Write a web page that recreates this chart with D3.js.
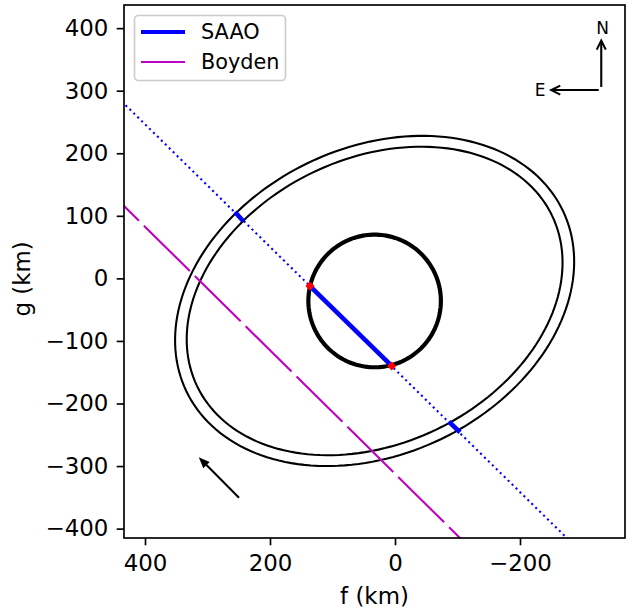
<!DOCTYPE html>
<html><head><meta charset="utf-8">
<script src="https://cdn.jsdelivr.net/npm/d3@7"></script>
<style>body{margin:0;background:#fff} text{font-family:"DejaVu Sans",sans-serif;fill:#000}</style>
</head><body><svg id="c" width="636" height="613"></svg>
<script>
// ---- data (km) ----
const xTicks = [400, 200, 0, -200];
const yTicks = [400, 300, 200, 100, 0, -100, -200, -300, -400];
const xDomain = [433.6, -368];
const yDomain = [-415, 437];
const bodyCenter = [32.6, -36.1];
const circleRadius = 106;
const ellipseAngleDeg = 25.6;
const ellipseAxes = [[334, 245], [315, 228]];
const saaoLine = [[450, 295.4], [-300, -439.6]];
const saaoChord = [[136, -12.3], [5.3, -140]];
const saaoMarks = [[[256, 106], [243, 91.6]], [[-86, -229], [-104, -246]]];
const boydenLine = [[440, 122], [-110, -421]];
const boydenGapAnchorF = 246.9;
const motionArrow = [[249.6, -350.8], [314, -286]];
const northArrow = [[-330, 306], [-330, 380]];
const eastArrow = [[-326, 301], [-250, 301]];
const northLabel = [-332, 400];
const eastLabel = [-232, 301];
const legendNames = ["SAAO", "Boyden"];

// ---- layout ----
const svg = d3.select("#c");
const L = 124, R = 625, T = 5, B = 538;
const x = d3.scaleLinear().domain(xDomain).range([L, R]);
const y = d3.scaleLinear().domain(yDomain).range([B, T]);
const fmt = d => (d < 0 ? "\u2212" + Math.abs(d) : String(d));
const FS = 22.9, LFS = 20.8;

svg.append("defs").append("clipPath").attr("id", "clip")
  .append("rect").attr("x", L).attr("y", T).attr("width", R - L).attr("height", B - T);
const g = svg.append("g").attr("clip-path", "url(#clip)");
const line = d3.line().x(d => x(d[0])).y(d => y(d[1]));

// ellipses
const th = ellipseAngleDeg * Math.PI / 180;
const u = [-Math.cos(th), Math.sin(th)], v = [Math.sin(th), Math.cos(th)];
ellipseAxes.forEach(([a, b]) => {
  const pts = d3.range(0, 361, 2).map(t => {
    const r = t * Math.PI / 180;
    return [bodyCenter[0] + a * Math.cos(r) * u[0] + b * Math.sin(r) * v[0],
            bodyCenter[1] + a * Math.cos(r) * u[1] + b * Math.sin(r) * v[1]];
  });
  g.append("path").attr("d", line(pts)).attr("fill", "none").attr("stroke", "#000").attr("stroke-width", 2.08);
});
// circle
const cpts = d3.range(0, 361, 2).map(t => [bodyCenter[0] + circleRadius * Math.cos(t * Math.PI / 180),
                                           bodyCenter[1] + circleRadius * Math.sin(t * Math.PI / 180)]);
g.append("path").attr("d", line(cpts)).attr("fill", "none").attr("stroke", "#000").attr("stroke-width", 4.17);

// boyden dashed (dash phase anchored so a gap starts at boydenGapAnchorF)
const bx0 = x(boydenLine[0][0]), by0 = y(boydenLine[0][1]);
const bx1 = x(boydenLine[1][0]), by1 = y(boydenLine[1][1]);
const bLen = Math.hypot(bx1 - bx0, by1 - by0);
const sGap = (x(boydenGapAnchorF) - bx0) / (bx1 - bx0) * bLen;
const DASH = 64.5, GAP = 7, PER = DASH + GAP;
const off = (((DASH - sGap) % PER) + PER) % PER;
g.append("path").attr("d", line(boydenLine)).attr("fill", "none").attr("stroke", "#bf00bf")
  .attr("stroke-width", 2.08).attr("stroke-dasharray", `${DASH},${GAP}`).attr("stroke-dashoffset", off);
// saao dotted
g.append("path").attr("d", line(saaoLine)).attr("fill", "none").attr("stroke", "#0000ff")
  .attr("stroke-width", 2.08).attr("stroke-dasharray", "2.08,3.44");
// saao chord & marks
[saaoChord, ...saaoMarks].forEach(seg => {
  g.append("path").attr("d", line(seg)).attr("fill", "none").attr("stroke", "#0000ff").attr("stroke-width", 4.6);
});
// red diamonds
saaoChord.forEach(p => {
  g.append("path").attr("d", d3.symbol(d3.symbolSquare, 42)())
    .attr("transform", `translate(${x(p[0])},${y(p[1])}) rotate(45)`).attr("fill", "#ff0000");
});

// arrows
function arrow(p, filled) {
  const x0 = x(p[0][0]), y0 = y(p[0][1]), x1 = x(p[1][0]), y1 = y(p[1][1]);
  const ang = Math.atan2(y1 - y0, x1 - x0);
  const hl = filled ? 11 : 9, hw = 4.5;
  const bx = x1 - hl * Math.cos(ang), by = y1 - hl * Math.sin(ang);
  const px = -Math.sin(ang) * hw, py = Math.cos(ang) * hw;
  if (filled) {
    svg.append("line").attr("x1", x0).attr("y1", y0).attr("x2", bx).attr("y2", by)
      .attr("stroke", "#000").attr("stroke-width", 2.08);
    svg.append("path").attr("d", `M${x1},${y1}L${bx + px},${by + py}L${bx - px},${by - py}Z`).attr("fill", "#000");
  } else {
    svg.append("line").attr("x1", x0).attr("y1", y0).attr("x2", x1).attr("y2", y1)
      .attr("stroke", "#000").attr("stroke-width", 2.08);
    svg.append("path").attr("d", `M${bx + px},${by + py}L${x1},${y1}L${bx - px},${by - py}`)
      .attr("fill", "none").attr("stroke", "#000").attr("stroke-width", 2.08);
  }
}
arrow(motionArrow, true);
arrow(northArrow, false);
arrow(eastArrow, false);
svg.append("text").attr("x", x(northLabel[0])).attr("y", y(northLabel[1])).attr("text-anchor", "middle")
  .attr("dominant-baseline", "central").attr("font-size", 17).text("N");
svg.append("text").attr("x", x(eastLabel[0])).attr("y", y(eastLabel[1])).attr("text-anchor", "middle")
  .attr("dominant-baseline", "central").attr("font-size", 17).text("E");

// axes
const ax = svg.append("g").attr("transform", `translate(0,${B})`)
  .call(d3.axisBottom(x).tickValues(xTicks).tickFormat(fmt).tickSize(7.3).tickPadding(9.5));
const ay = svg.append("g").attr("transform", `translate(${L},0)`)
  .call(d3.axisLeft(y).tickValues(yTicks).tickFormat(fmt).tickSize(7.3).tickPadding(8.3));
[ax, ay].forEach(a => {
  a.select(".domain").remove();
  a.selectAll(".tick line").attr("stroke", "#000").attr("stroke-width", 1.67);
  a.selectAll(".tick text").attr("font-size", FS).attr("font-family", "DejaVu Sans").attr("fill", "#000");
});
svg.append("rect").attr("x", L).attr("y", T).attr("width", R - L).attr("height", B - T)
  .attr("fill", "none").attr("stroke", "#000").attr("stroke-width", 1.67);

svg.append("text").attr("x", (L + R) / 2).attr("y", 604).attr("text-anchor", "middle")
  .attr("font-size", FS).text("f (km)");
svg.append("text").attr("transform", `translate(30,279) rotate(-90)`).attr("text-anchor", "middle")
  .attr("font-size", FS).text("g (km)");

// legend
const lg = svg.append("g");
lg.append("rect").attr("x", 134.5).attr("y", 15.5).attr("width", 151).attr("height", 65).attr("rx", 4)
  .attr("fill", "#fff").attr("fill-opacity", 0.8).attr("stroke", "#cccccc").attr("stroke-width", 1.67);
const lstyles = [{c: "#0000ff", w: 4.17}, {c: "#bf00bf", w: 2.08}];
legendNames.forEach((n, i) => {
  const yy = 32 + i * 30;
  lg.append("line").attr("x1", 141).attr("x2", 185).attr("y1", yy).attr("y2", yy)
    .attr("stroke", lstyles[i].c).attr("stroke-width", lstyles[i].w);
  lg.append("text").attr("x", 201).attr("y", yy).attr("dominant-baseline", "central")
    .attr("font-size", LFS).text(n);
});
</script></body></html>
